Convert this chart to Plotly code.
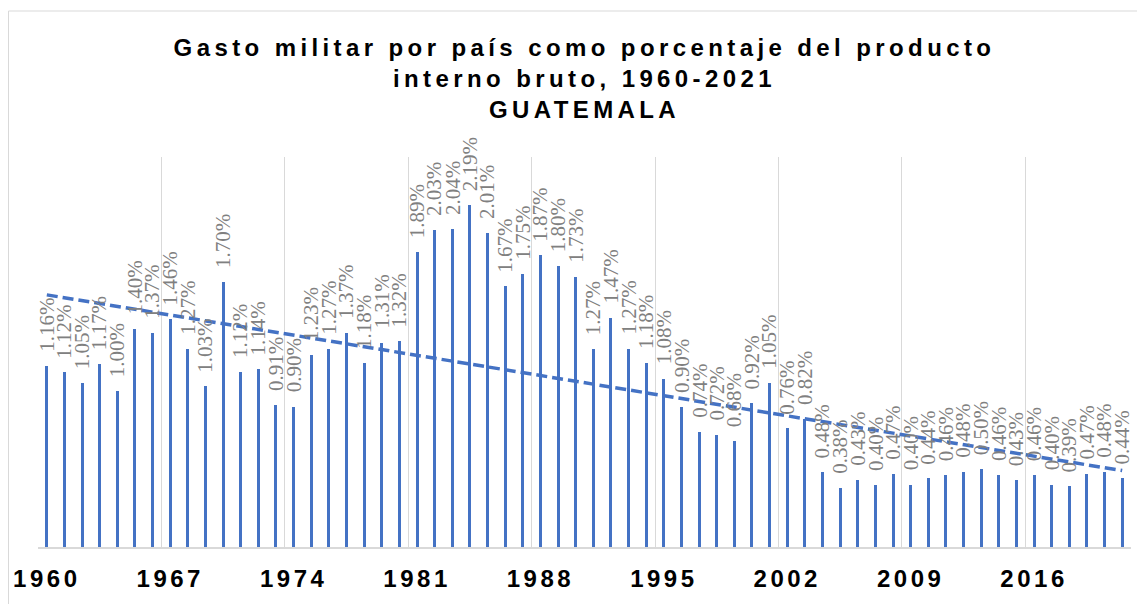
import numpy as np
import plotly.graph_objects as go

years = list(range(1960, 2022))
values = [1.16, 1.12, 1.05, 1.17, 1.00, 1.40, 1.37, 1.46, 1.27, 1.03,
          1.70, 1.12, 1.14, 0.91, 0.90, 1.23, 1.27, 1.37, 1.18, 1.31,
          1.32, 1.89, 2.03, 2.04, 2.19, 2.01, 1.67, 1.75, 1.87, 1.80,
          1.73, 1.27, 1.47, 1.27, 1.18, 1.08, 0.90, 0.74, 0.72, 0.68,
          0.92, 1.05, 0.76, 0.82, 0.48, 0.38, 0.43, 0.40, 0.47, 0.40,
          0.44, 0.46, 0.48, 0.50, 0.46, 0.43, 0.46, 0.40, 0.39, 0.47,
          0.48, 0.44]
tick_years = [1960, 1967, 1974, 1981, 1988, 1995, 2002, 2009, 2016]
title_lines = ["Gasto militar por país como porcentaje del producto",
               "interno bruto, 1960-2021", "GUATEMALA"]

BLUE = "#4472C4"
GRID = "#d9d9d9"

# linear trend line (as Excel's trendline)
coef = np.polyfit(years, values, 1)
trend = np.polyval(coef, years)

fig = go.Figure()
fig.add_trace(go.Bar(x=years, y=values, width=0.17, marker=dict(color=BLUE, line=dict(width=0)),
                     hoverinfo="x+y"))
fig.add_trace(go.Scatter(x=years, y=trend, mode="lines",
                         line=dict(color=BLUE, width=3.5, dash="11px,5px"), hoverinfo="skip"))

annotations = []
for yr, v in zip(years, values):
    annotations.append(dict(x=yr, y=v, xref="x", yref="y", text=f"{v:.2f}%", showarrow=False,
                            textangle=-90, xanchor="center", yanchor="bottom", yshift=12,
                            font=dict(family="Liberation Serif, Times New Roman, serif",
                                      size=21, color="#808080")))

# the page places the figure 8px from the window's top-left corner
W, H = 1137, 596
L, R, T, B = 30, 14, 149, 57
pw, ph = W - L - R, H - T - B

title_html = "<br>".join(f"<span style='letter-spacing:4.4px'>{t}</span>" for t in title_lines)

fig.update_layout(
    width=W, height=H,
    margin=dict(l=L, r=R, t=T, b=B, autoexpand=False),
    paper_bgcolor="white", plot_bgcolor="white",
    showlegend=False,
    bargap=0,
    title=dict(text=title_html, x=0.5, xref="paper", xanchor="center",
               y=1 - 48 / H, yref="container", yanchor="top",
               font=dict(family="Liberation Sans", size=24, color="#000000", weight="bold")),
    xaxis=dict(range=[1959.5, 2021.5], tickmode="array", tickvals=tick_years,
               ticktext=[f"<span style='letter-spacing:3.5px'>{t}</span>" for t in tick_years],
               showgrid=False, ticks="", showline=True, linecolor=GRID, linewidth=1.5,
               tickfont=dict(family="Liberation Sans", size=24, color="#000000", weight="bold"),
               ticklabelstandoff=9, zeroline=False, automargin=False,
               minor=dict(tickmode="array", tickvals=[1959.5 + 7 * k for k in range(9)],
                          showgrid=True, gridcolor=GRID, gridwidth=1, ticks="")),
    yaxis=dict(range=[0, 2.5], visible=False, showgrid=False, zeroline=False, automargin=False),
    annotations=annotations,
    shapes=[dict(type="rect", xref="paper", yref="paper",
                 x0=(0.5 - L) / pw, x1=(W + 20 - L) / pw,
                 y0=(H - B - (H + 20)) / ph, y1=(H - B - 3) / ph,
                 line=dict(color=GRID, width=1), fillcolor="rgba(0,0,0,0)", layer="below")],
)

fig.write_html("out.html")
